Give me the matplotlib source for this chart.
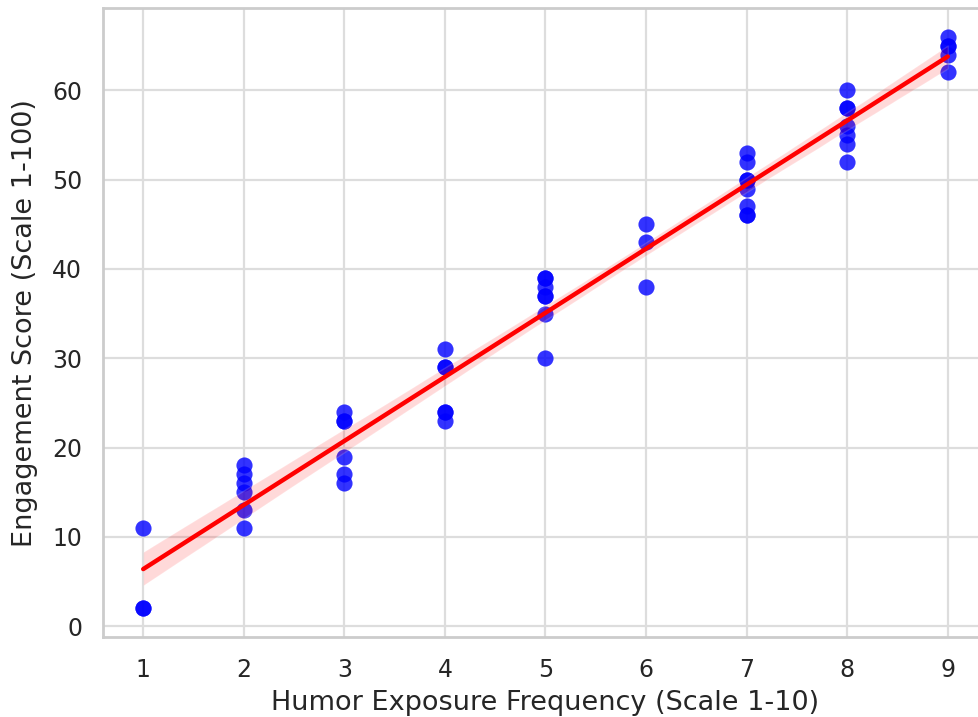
import numpy as np
import pandas as pd
import seaborn as sns
import matplotlib
matplotlib.use("Agg")
from matplotlib import pyplot as plt

# humor exposure (x) vs engagement (y)
humor = [1, 1, 1,
         2, 2, 2, 2, 2, 2,
         3, 3, 3, 3, 3, 3,
         4, 4, 4, 4, 4, 4,
         5, 5, 5, 5, 5, 5, 5,
         6, 6, 6,
         7, 7, 7, 7, 7, 7, 7, 7,
         8, 8, 8, 8, 8, 8, 8,
         9, 9, 9, 9, 9]
engagement = [11, 2, 2,
              18, 17, 16, 15, 13, 11,
              24, 23, 23, 19, 17, 16,
              31, 29, 29, 24, 24, 23,
              39, 39, 38, 37, 37, 35, 30,
              45, 43, 38,
              53, 52, 50, 50, 49, 47, 46, 46,
              60, 58, 58, 56, 55, 54, 52,
              66, 65, 65, 64, 62]

df = pd.DataFrame({"humor": humor, "engagement": engagement})

sns.set_theme(style="whitegrid")
plt.rcParams['font.family'] = ['DejaVu Sans']

fig = plt.figure(figsize=(9.79, 7.17), dpi=100)
ax = fig.add_axes([0.1052, 0.1116, 0.904, 0.877])

sns.regplot(data=df, x="humor", y="engagement", ax=ax, seed=3,
            scatter_kws={"color": "blue", "alpha": 0.8, "s": 135, "linewidths": 0},
            line_kws={"color": "red", "linewidth": 3.2})

ax.set_xlabel("Humor Exposure Frequency (Scale 1-10)", fontsize=19.5, color="#262626", labelpad=6)
ax.set_ylabel("Engagement Score (Scale 1-100)", fontsize=19.5, color="#262626", labelpad=10)
ax.tick_params(labelsize=17, colors="#262626", pad=9)
ax.grid(color="#dddddd", linewidth=1.6)
for s in ax.spines.values():
    s.set_color("#cccccc")
    s.set_linewidth(2)

fig.savefig("out.png", dpi=100)
